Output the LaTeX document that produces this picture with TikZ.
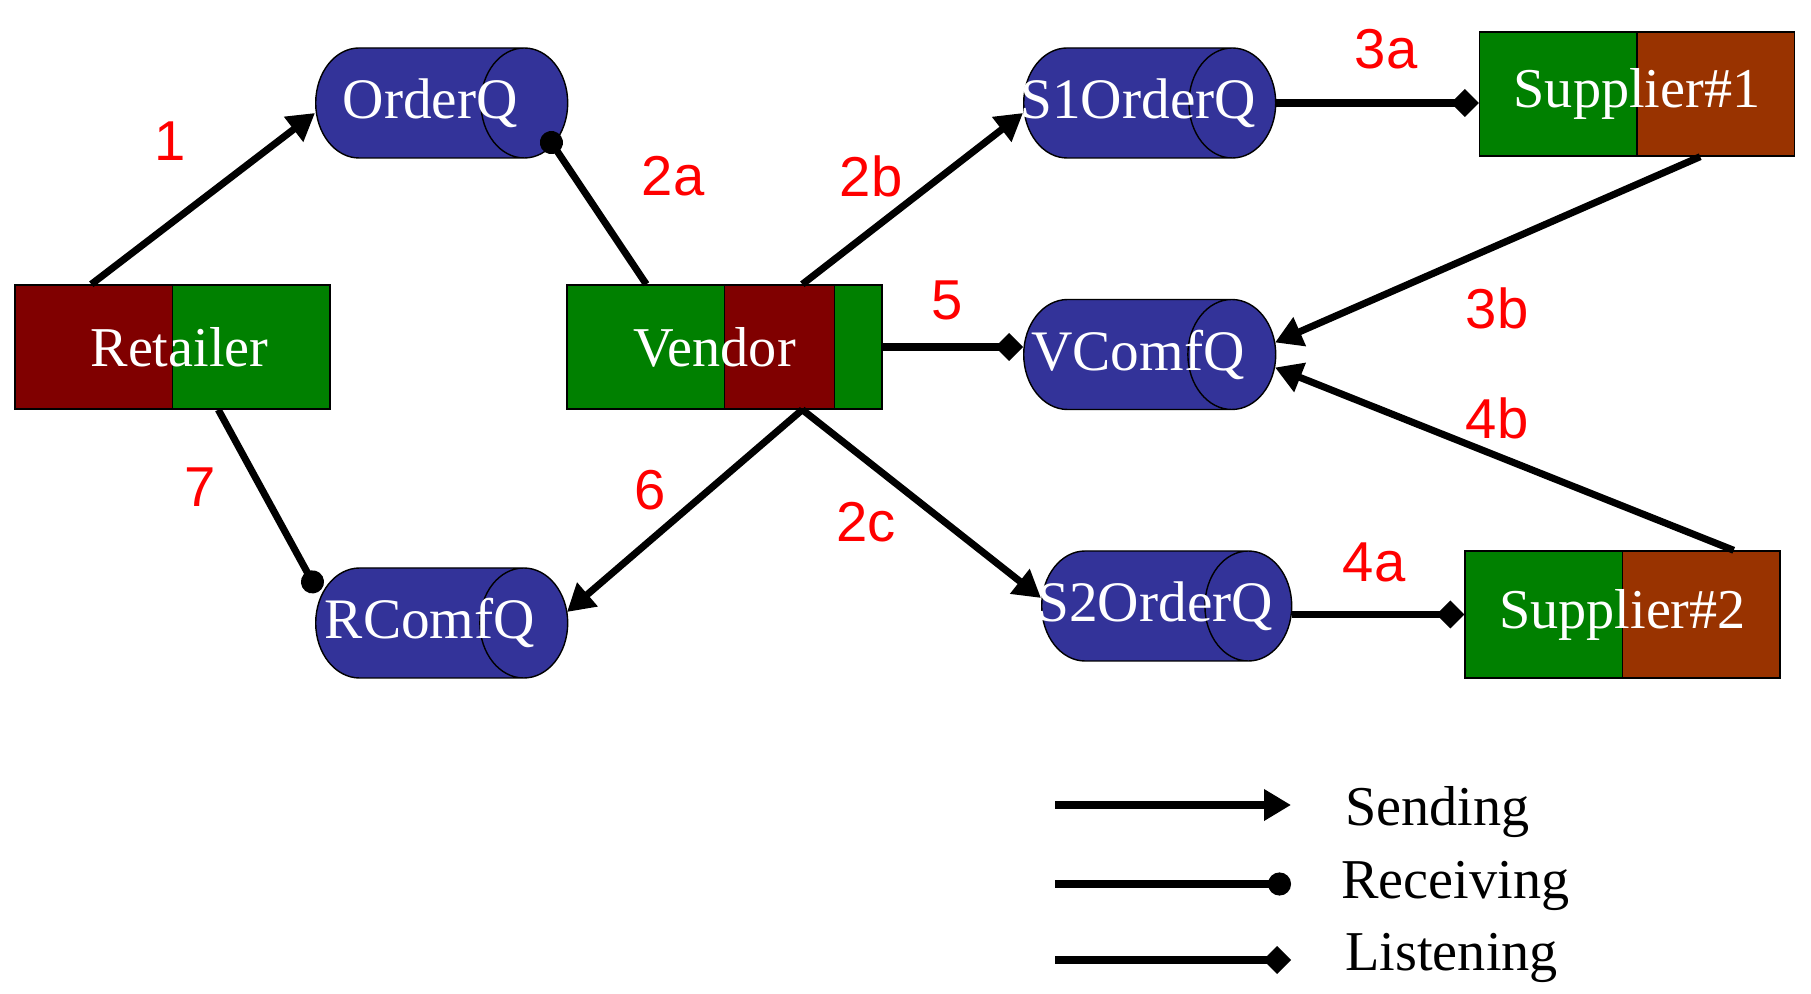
\documentclass[tikz,border=0pt]{standalone}
\usepackage{fontspec}
\setmainfont{Liberation Serif}
\newfontfamily\numfont{Liberation Sans}
\usetikzlibrary{shapes.geometric,arrows.meta,calc}

\definecolor{qblue}{HTML}{333399}
\definecolor{agreen}{HTML}{008000}
\definecolor{ared}{HTML}{800000}
\definecolor{abrown}{HTML}{993300}

\newcommand{\qname}[1]{\makebox[0pt]{\hspace{0.21cm}#1}}

\tikzset{
  queue/.style={cylinder, draw, thin, fill=qblue, shape aspect=1.77,
    minimum height=2.52cm, minimum width=1.10cm, inner sep=0pt, anchor=west,
    text=white, font=\fontsize{16.3}{18}\selectfont},
  agent/.style={rectangle, draw, thin, minimum width=3.15cm,
    minimum height=1.24cm, inner sep=0pt,
    text=white, font=\fontsize{16}{18}\selectfont},
  twotone/.style 2 args={path picture={
    \fill[#1] (path picture bounding box.south west) rectangle (path picture bounding box.north);
    \fill[#2] (path picture bounding box.south) rectangle (path picture bounding box.north east);
    \draw[thin] (path picture bounding box.south) -- (path picture bounding box.north);}},
  msg/.style={line width=2pt},
  send/.style={msg, -{Triangle[length=2.7mm,width=3mm]}},
  recv/.style={msg, -{Circle[length=2.3mm]}},
  listen/.style={msg, -{Diamond[length=2.8mm,width=2.8mm]}},
  num/.style={text=red, font=\numfont\fontsize{16}{18}\selectfont},
  legendtext/.style={anchor=west, font=\fontsize{16}{18}\selectfont}
}

\begin{document}
\begin{tikzpicture}
  \useasboundingbox (0,0) rectangle (18.11,-9.94);

  % agents
  \node[agent, twotone={ared}{agreen}] (Retailer) at (1.725,-3.47) {\kern0.14cm Retailer};
  \node[agent, path picture={
    \fill[agreen] (path picture bounding box.south west) rectangle (path picture bounding box.north east);
    \fill[ared] ($(path picture bounding box.south west)!0.5!(path picture bounding box.south east)$)
      rectangle ($(path picture bounding box.north west)!0.85!(path picture bounding box.north east)$);
    \draw[thin] ($(path picture bounding box.south west)!0.5!(path picture bounding box.south east)$)
      -- ($(path picture bounding box.north west)!0.5!(path picture bounding box.north east)$);
    \draw[thin] ($(path picture bounding box.south west)!0.85!(path picture bounding box.south east)$)
      -- ($(path picture bounding box.north west)!0.85!(path picture bounding box.north east)$);}]
    (Vendor) at (7.245,-3.47) {Vendor\kern0.2cm};
  \node[agent, twotone={agreen}{abrown}] (Supplier1) at (16.37,-0.94) {Supplier\#1};
  \node[agent, twotone={agreen}{abrown}, minimum height=1.27cm] (Supplier2) at (16.225,-6.145) {Supplier\#2};

  % queues
  \node[queue] (OrderQ) at (3.15,-1.03) {\qname{OrderQ}};
  \node[queue] (RComfQ) at (3.15,-6.23) {\qname{RComfQ}};
  \node[queue] (S1OrderQ) at (10.23,-1.03) {\qname{S1OrderQ}};
  \node[queue] (VComfQ) at (10.23,-3.545) {\qname{VComfQ}};
  \node[queue, minimum height=2.50cm] (S2OrderQ) at (10.41,-6.06) {\qname{S2OrderQ}};

  % messages
  \draw[send] ([xshift=0.77cm]Retailer.north west) -- ([yshift=-1mm]OrderQ.west);
  \draw[recv] ([xshift=0.8cm]Vendor.north west) -- ([shift={(2.30,-0.30)}]OrderQ.west);
  \draw[send] ([xshift=2.36cm]Vendor.north west) -- ([yshift=-1mm]S1OrderQ.west);
  \draw[listen] (S1OrderQ.east) -- (Supplier1.west |- S1OrderQ.east);
  \draw[send] ([xshift=-0.95cm]Supplier1.south east) -- ([shift={(2.52,0.12)}]VComfQ.west);
  \draw[send] ([xshift=-0.47cm]Supplier2.north east) -- ([shift={(2.52,-0.13)}]VComfQ.west);
  \draw[listen] (Vendor.east) -- (VComfQ.west |- Vendor.east);
  \draw[send] ([xshift=2.36cm]Vendor.south west) -- ([shift={(2.52,0.11)}]RComfQ.west);
  \draw[send] ([xshift=2.36cm]Vendor.south west) -- ([yshift=0.8mm]S2OrderQ.west);
  \draw[listen] (S2OrderQ.east |- Supplier2.west) -- (Supplier2.west);
  \draw[recv] ([xshift=2.04cm]Retailer.south west) -- ([shift={(0.03,0.31)}]RComfQ.west);

  % step numbers
  \node[num] (l1) at (1.70,-1.41) {1};
  \node[num] (l2a) at (6.73,-1.76) {2a};
  \node[num] (l2b) at (8.71,-1.76) {2b};
  \node[num] (l3a) at (13.86,-0.49) {3a};
  \node[num] (l5) at (9.47,-3.00) {5};
  \node[num] (l3b) at (14.97,-3.08) {3b};
  \node[num] (l4b) at (14.97,-4.18) {4b};
  \node[num] (l7) at (2.00,-4.87) {7};
  \node[num] (l6) at (6.50,-4.90) {6};
  \node[num] (l2c) at (8.66,-5.22) {2c};
  \node[num] (l4a) at (13.74,-5.62) {4a};

  % legend
  \coordinate (sendA) at (10.55,-8.05);
  \coordinate (sendB) at (12.91,-8.05);
  \coordinate (recvA) at (10.55,-8.84);
  \coordinate (recvB) at (12.91,-8.84);
  \coordinate (lisA) at (10.55,-9.60);
  \coordinate (lisB) at (12.91,-9.60);
  \draw[send] (sendA) -- (sendB);
  \draw[recv] (recvA) -- (recvB);
  \draw[listen] (lisA) -- (lisB);
  \node[legendtext] (sendtxt) at (13.33,-8.12) {Sending};
  \node[legendtext] (recvtxt) at (13.29,-8.86) {Receiving};
  \node[legendtext] (listxt) at (13.33,-9.58) {Listening};
\end{tikzpicture}
\end{document}
